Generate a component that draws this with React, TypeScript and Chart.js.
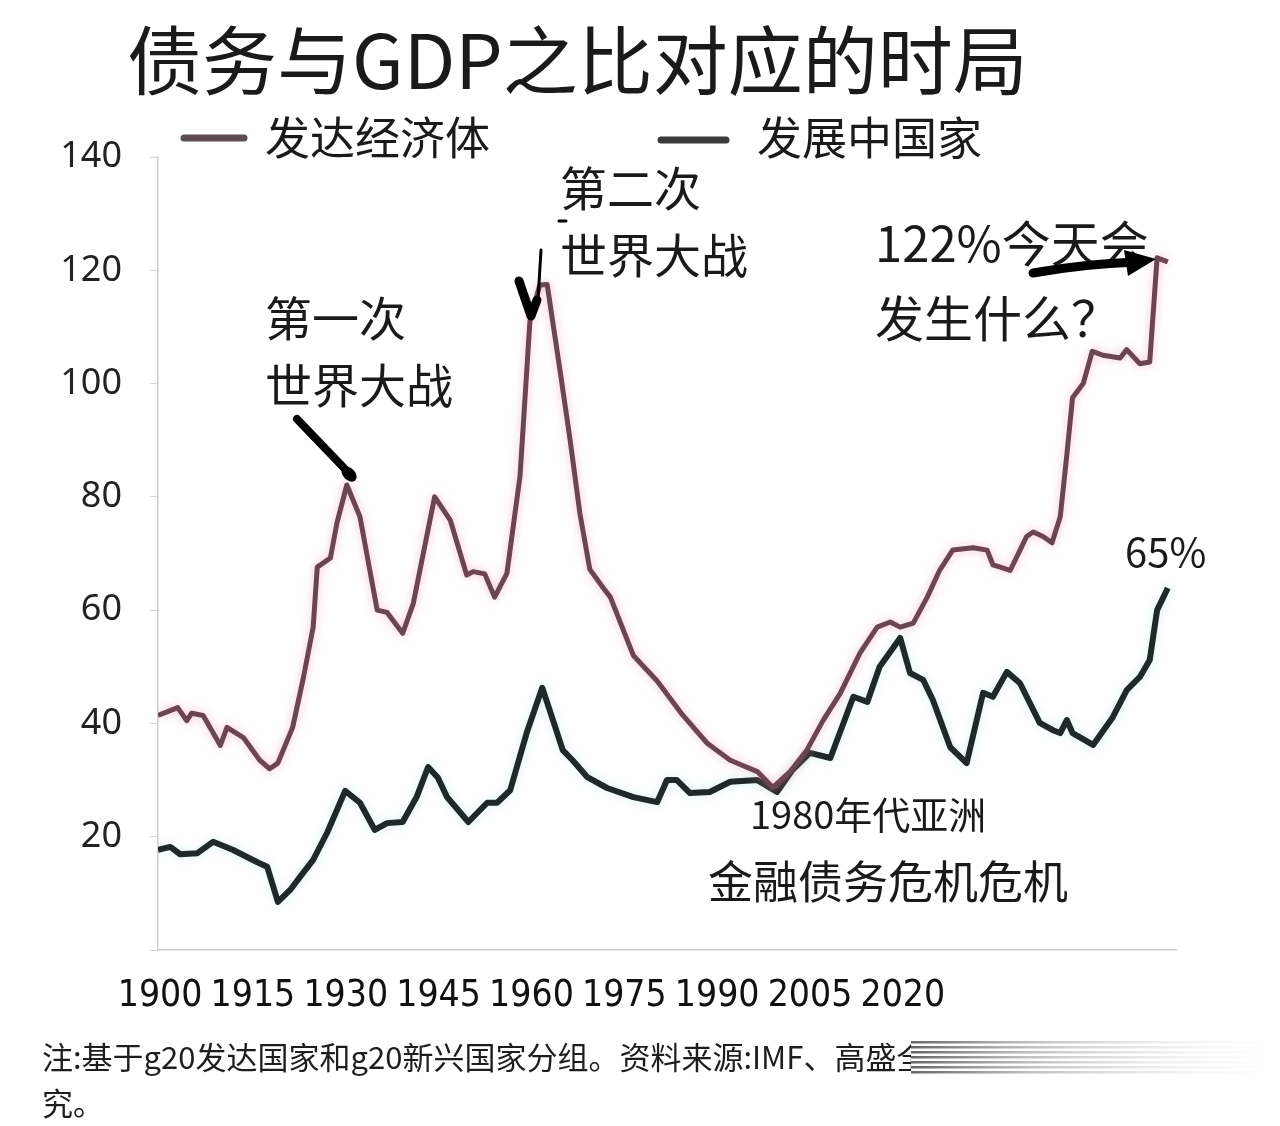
import { useEffect, useRef } from 'react';
import { Chart, registerables } from 'chart.js';

Chart.register(...registerables);

// ---------- data ----------
const chartTitle = '债务与GDP之比对应的时局';
const seriesNames = ['发达经济体', '发展中国家'];
const xTickLabels = ['1900', '1915', '1930', '1945', '1960', '1975', '1990', '2005', '2020'];
const yTickValues = [0, 20, 40, 60, 80, 100, 120, 140];

const devYears = [1900, 1902.4, 1903.5, 1904.1, 1905.5, 1907.6, 1908.4, 1910.4, 1912.4, 1913.6, 1914.6, 1916.4, 1917.7, 1918.9, 1919.4, 1921.0, 1921.8, 1923.0, 1924.6, 1925.5, 1926.7, 1927.9, 1929.8, 1931.1, 1933.7, 1935.6, 1937.6, 1938.4, 1939.8, 1941.0, 1942.5, 1944.1, 1945.3, 1946.5, 1947.4, 1949.0, 1950.2, 1951.4, 1952.6, 1954.2, 1955.1, 1957.9, 1960.8, 1963.9, 1966.9, 1969.7, 1973.0, 1974.9, 1977.0, 1979.0, 1981.0, 1983.1, 1985.5, 1987.6, 1989.2, 1990.4, 1992.0, 1993.7, 1995.2, 1996.8, 1999.3, 2001.0, 2001.7, 2002.6, 2003.8, 2005.0, 2005.8, 2006.6, 2007.8, 2008.9, 2009.9, 2010.7, 2011.4, 2012.7, 2013.8, 2015.1, 2017.2, 2018.0, 2019.6, 2020.8, 2021.7, 2023.0];
const devDebt = [41.4, 42.8, 40.5, 41.8, 41.4, 36.1, 39.3, 37.5, 33.5, 32.0, 33.0, 39.3, 48.0, 57.0, 67.6, 69.2, 75.4, 82.1, 76.5, 69.4, 60.0, 59.6, 55.9, 61.2, 80.0, 75.9, 66.2, 66.8, 66.4, 62.3, 66.5, 83.7, 111.0, 117.4, 117.5, 102.0, 90.0, 77.0, 67.2, 64.0, 62.3, 52.0, 47.5, 41.5, 36.5, 33.5, 31.5, 28.7, 31.5, 35.2, 40.5, 45.3, 52.4, 57.0, 57.9, 57.0, 57.7, 62.3, 67.0, 70.6, 71.0, 70.6, 68.0, 67.6, 67.0, 70.6, 73.0, 73.8, 73.0, 71.9, 76.5, 87.4, 97.5, 100.0, 105.7, 105.0, 104.5, 106.0, 103.5, 103.8, 122.2, 121.5];

const emYears = [1900, 1901.5, 1902.7, 1904.8, 1906.7, 1909.1, 1912.1, 1913.3, 1914.6, 1916.1, 1917.3, 1918.9, 1920.6, 1922.8, 1924.6, 1926.4, 1927.9, 1929.8, 1931.5, 1932.9, 1934.1, 1935.2, 1937.8, 1940.1, 1941.3, 1942.9, 1944.9, 1946.8, 1947.7, 1949.3, 1950.5, 1952.3, 1954.7, 1957.9, 1960.8, 1962.0, 1963.2, 1964.8, 1967.2, 1969.7, 1973.0, 1975.4, 1977.3, 1979.4, 1981.9, 1984.7, 1986.4, 1987.9, 1990.4, 1991.6, 1993.2, 1994.4, 1996.5, 1998.5, 2000.5, 2001.7, 2003.4, 2005.0, 2007.4, 2009.0, 2009.9, 2010.7, 2011.4, 2013.9, 2016.3, 2018.0, 2019.6, 2020.8, 2021.7, 2023.0];
const emDebt = [17.7, 18.2, 16.9, 17.1, 19.1, 17.7, 15.5, 14.7, 8.5, 10.6, 12.9, 15.9, 20.7, 28.1, 26.0, 21.2, 22.4, 22.6, 27.0, 32.3, 30.4, 27.0, 22.6, 26.0, 26.0, 28.2, 38.3, 46.3, 42.4, 35.3, 33.5, 30.5, 28.6, 27.0, 26.1, 30.0, 30.0, 27.7, 27.9, 29.7, 30.0, 27.9, 31.8, 34.8, 33.9, 44.7, 43.8, 50.0, 55.1, 48.9, 47.7, 44.1, 35.8, 33.0, 45.4, 44.7, 49.1, 47.1, 40.1, 38.8, 38.3, 40.6, 38.3, 36.2, 41.1, 45.9, 48.2, 51.2, 60.0, 63.9];

const notesWW1 = ['第一次', '世界大战'];
const notesWW2 = ['第二次', '世界大战'];
const notesToday = ['122%今天会', '发生什么？'];
const noteEm = '65%';
const notesAsia = ['1980年代亚洲', '金融债务危机危机'];
const footnoteLines = ['注:基于g20发达国家和g20新兴国家分组。资料来源:IMF、高盛全', '究。'];

// ---------- styles ----------
const CJK = '"Noto Sans CJK SC", "Noto Sans", sans-serif';
const DEV_COLOR = '#6b4652';
const EM_COLOR = '#1f2a28';

const glowPlugin = {
  id: 'lineGlow',
  beforeDatasetDraw(chart: any, args: any) {
    const ctx = chart.ctx;
    ctx.save();
    ctx.shadowColor = args.index === 0 ? 'rgba(240,140,165,0.55)' : 'rgba(120,205,205,0.30)';
    ctx.shadowBlur = 10;
  },
  afterDatasetDraw(chart: any) {
    chart.ctx.restore();
  },
};

const overlayPlugin = {
  id: 'overlay',
  afterDraw(chart: any) {
    const ctx: CanvasRenderingContext2D = chart.ctx;
    ctx.save();
    ctx.textBaseline = 'middle';
    ctx.textAlign = 'left';
    ctx.fillStyle = '#1a1a1a';

    // title
    ctx.font = `400 75px ${CJK}`;
    ctx.fillText(chartTitle, 119, 52);

    // legend
    ctx.lineCap = 'round';
    ctx.lineWidth = 7;
    ctx.strokeStyle = '#5e4b53';
    ctx.beginPath(); ctx.moveTo(176, 130); ctx.lineTo(236, 130); ctx.stroke();
    ctx.strokeStyle = '#3a3a3a';
    ctx.beginPath(); ctx.moveTo(653, 132); ctx.lineTo(718, 132); ctx.stroke();
    ctx.font = `400 45px ${CJK}`;
    ctx.fillText(seriesNames[0], 257, 130);
    ctx.fillText(seriesNames[1], 749, 130);

    // annotations
    ctx.font = `400 47px ${CJK}`;
    ctx.fillText(notesWW1[0], 257, 310);
    ctx.fillText(notesWW1[1], 257, 377);
    ctx.fillText(notesWW2[0], 552, 180);
    ctx.fillText(notesWW2[1], 552, 247);
    ctx.font = `400 49px ${CJK}`;
    ctx.fillText(notesToday[0], 867, 235);
    ctx.fillText(notesToday[1], 867, 310);
    ctx.font = `400 40px ${CJK}`;
    ctx.fillText(noteEm, 1117, 544);
    ctx.font = `400 38px ${CJK}`;
    ctx.fillText(notesAsia[0], 742, 807);
    ctx.font = `400 45px ${CJK}`;
    ctx.fillText(notesAsia[1], 700, 874);

    // hand-drawn arrows
    ctx.strokeStyle = '#000';
    ctx.fillStyle = '#000';
    ctx.lineJoin = 'round';
    ctx.lineWidth = 8;
    ctx.beginPath(); ctx.moveTo(289, 411); ctx.lineTo(336, 460); ctx.stroke();
    ctx.beginPath(); ctx.ellipse(341, 466, 9, 6, Math.PI / 4, 0, Math.PI * 2); ctx.fill();

    ctx.lineWidth = 9;
    ctx.beginPath(); ctx.moveTo(511, 273); ctx.lineTo(523, 308); ctx.lineTo(529, 292); ctx.stroke();
    ctx.lineWidth = 3;
    ctx.beginPath(); ctx.moveTo(533, 242); ctx.lineTo(530, 292); ctx.stroke();
    ctx.beginPath(); ctx.moveTo(551, 213); ctx.lineTo(558, 213); ctx.stroke();

    ctx.lineWidth = 9;
    ctx.beginPath(); ctx.moveTo(1025, 265); ctx.quadraticCurveTo(1075, 256, 1128, 254); ctx.stroke();
    ctx.beginPath(); ctx.moveTo(1116, 242); ctx.lineTo(1148, 251); ctx.lineTo(1120, 268); ctx.closePath(); ctx.fill();

    // footnote
    ctx.fillStyle = '#1e1e1e';
    ctx.font = `400 31px ${CJK}`;
    ctx.fillText(footnoteLines[0], 34, 1049);
    ctx.fillText(footnoteLines[1], 34, 1095);

    // blurred streaks over the end of the footnote
    const g = ctx.createLinearGradient(900, 0, 1250, 0);
    g.addColorStop(0, 'rgba(70,70,70,0.85)');
    g.addColorStop(0.35, 'rgba(140,140,140,0.55)');
    g.addColorStop(1, 'rgba(225,225,225,0.05)');
    ctx.fillStyle = '#ffffff';
    ctx.fillRect(903, 1030, 350, 38);
    ctx.fillStyle = g;
    for (let y = 1033; y < 1066; y += 5) {
      ctx.fillRect(903, y, 347, 2.5);
    }
    ctx.restore();
  },
};

export default function App() {
  const ref = useRef<HTMLCanvasElement | null>(null);

  useEffect(() => {
    if (!ref.current) return;
    const chart = new Chart(ref.current, {
      type: 'line',
      data: {
        datasets: [
          {
            label: seriesNames[0],
            data: devYears.map((x, i) => ({ x, y: devDebt[i] })),
            borderColor: DEV_COLOR,
            borderWidth: 5,
            pointRadius: 0,
            tension: 0,
            borderJoinStyle: 'round',
          },
          {
            label: seriesNames[1],
            data: emYears.map((x, i) => ({ x, y: emDebt[i] })),
            borderColor: EM_COLOR,
            borderWidth: 6,
            pointRadius: 0,
            tension: 0,
            borderJoinStyle: 'round',
          },
        ],
      },
      options: {
        animation: false,
        responsive: false,
        devicePixelRatio: 1,
        events: [],
        layout: { padding: { top: 149, left: 0, right: 96, bottom: 106 } },
        plugins: {
          legend: { display: false },
          title: { display: false },
          tooltip: { enabled: false },
        },
        scales: {
          x: {
            type: 'linear',
            min: 1900,
            max: 2024,
            grid: { display: false, drawTicks: false },
            border: { display: true, color: '#cfcfcf', width: 1.5 },
            afterBuildTicks: (scale: any) => {
              scale.ticks = xTickLabels.map((_, i) => ({ value: 1900.25 + i * 11.31 }));
            },
            afterFit: (scale: any) => {
              scale.height = 70;
            },
            ticks: {
              autoSkip: false,
              maxRotation: 0,
              padding: 24,
              color: '#111',
              font: { family: '"DejaVu Sans Condensed", "Noto Sans", sans-serif', size: 37 },
              callback: (_v: any, i: number) => xTickLabels[i],
            },
          },
          y: {
            min: 0,
            max: 140,
            afterBuildTicks: (scale: any) => {
              scale.ticks = yTickValues.map((v) => ({ value: v }));
            },
            afterFit: (scale: any) => {
              scale.width = 150;
            },
            grid: { drawOnChartArea: false, drawTicks: true, tickLength: 8, color: '#d2d2d2' },
            border: { display: true, color: '#cfcfcf', width: 1.5 },
            ticks: {
              padding: 28,
              color: '#222',
              font: { family: '"Noto Sans", sans-serif', size: 36 },
              callback: (v: any) => (v === 0 ? '' : String(v)),
            },
          },
        },
      },
      plugins: [glowPlugin, overlayPlugin],
    });
    return () => chart.destroy();
  }, []);

  return (
    <div style={{ width: 1264, height: 1118, background: '#fff' }}>
      <canvas ref={ref} width={1264} height={1118} style={{ display: 'block', width: 1264, height: 1118 }} />
    </div>
  );
}
